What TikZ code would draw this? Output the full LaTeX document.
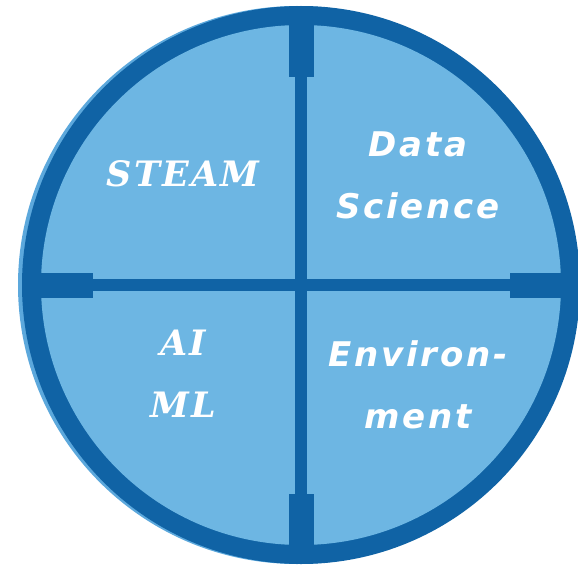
\documentclass[tikz,border=0pt]{standalone}
\usepackage{fontspec}
\newfontfamily\slabfont[LetterSpace=6]{DejaVu Serif}
\newfontfamily\squarefont[LetterSpace=8]{DejaVu Sans}
\definecolor{ringblue}{HTML}{1063A5}
\definecolor{fillblue}{HTML}{6DB6E3}
\definecolor{shadeblue}{HTML}{5CA8DC}
\tikzset{
  darkpart/.style={fill=ringblue, draw=none},
  slablabel/.style={text=white, font=\slabfont\bfseries\itshape\fontsize{35}{62}\selectfont, align=center, inner sep=0pt},
  squarelabel/.style={text=white, font=\squarefont\bfseries\itshape\fontsize{34}{62}\selectfont, align=center, inner sep=0pt}
}
\begin{document}
\begin{tikzpicture}[x=1pt,y=-1pt]
\useasboundingbox (0,0) rectangle (578,567);
% shadow
\fill[shadeblue] (297,285) circle (279);
% ring
\fill[ringblue] (301,285) circle (279);
\fill[fillblue] (301,285) circle (260);
% cross bars
\fill[ringblue] (295,15) rectangle (307,555);
\fill[ringblue] (30,279) rectangle (572,291);
% tabs
\fill[ringblue] (289,12) rectangle (314,77);
\fill[ringblue] (289,494) rectangle (314,558);
\fill[ringblue] (28,273) rectangle (93,298);
\fill[ringblue] (510,273) rectangle (574,298);
% labels
\node[slablabel] (steam) at (183,174) {STEAM};
\node[slablabel] (aiml) at (183,374) {AI\\ML};
\node[squarelabel] (data) at (418,175) {Data\\Science};
\node[squarelabel] (env) at (418,385) {Environ-\\ment};
\end{tikzpicture}
\end{document}
